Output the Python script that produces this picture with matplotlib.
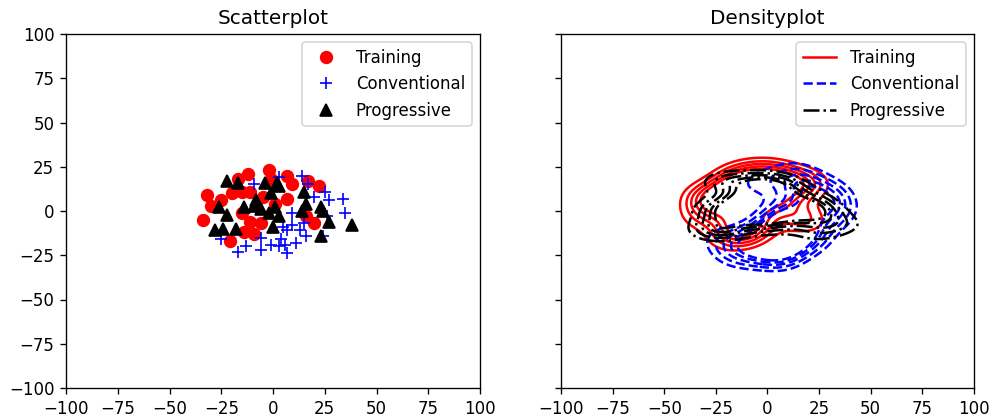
import numpy as np
import matplotlib
matplotlib.use("Agg")
import matplotlib.pyplot as plt
from matplotlib.lines import Line2D

# Sample coordinates for the three groups
training_x = [-32, -30, -34, -25, -20, -15, -11, -17, -12, -2, -1, 7, 9, 7, 1, -5,
              17, 22, 16, 20, -15, -11, -6, -14, -9, -21]
training_y = [9, 3, -5, 6, 10, 11, 11, 18, 21, 23, 18, 20, 15, 7, 4, 8,
              17, 14, -3, -7, -1, -6, -7, -12, -13, -17]

conventional_x = [3, 14, -9, 17, 20, 25, 27, 34, 35, 9, 9, 15, 24, 26, 7, 4, 11,
                  16, -6, -6, -1, 3, 6, 7, -13, -17, -25, 5, 13]
conventional_y = [19, 20, 15, 15, 8, 11, 6, 7, -1, -1, -8, -7, -14, -3, -11, -16, -18,
                  -14, -15, -22, -19, -20, -19, -24, -20, -23, -16, -9, -11]

progressive_x = [-22, -17, -4, 2, 3, -1, 15, 16, 14, 23, 24, 27, 23, 38, -26, -22,
                 -24, -18, -28, -14, -9, -6, -2, 1, 3, 0, -8]
progressive_y = [17, 16, 16, 16, 14, 10, 11, 4, 0, 2, 0, -6, -14, -8, 2, -2,
                 -10, -10, -11, 2, 3, 1, -1, 2, -3, -9, 6]

group_names = ["Training", "Conventional", "Progressive"]
tick_values = [-100, -75, -50, -25, 0, 25, 50, 75, 100]

groups = [
    (group_names[0], training_x, training_y),
    (group_names[1], conventional_x, conventional_y),
    (group_names[2], progressive_x, progressive_y),
]
markers = ["ro", "b+", "k^"]
line_colors = ["red", "blue", "black"]
line_styles = ["-", "--", "-."]


def kde_grid(x, y, gx, gy, bw_adjust=1.0):
    """Product-kernel Gaussian density estimate (per-axis Scott bandwidth)."""
    x = np.asarray(x, float)
    y = np.asarray(y, float)
    n = len(x)
    factor = n ** (-1.0 / 6.0) * bw_adjust
    hx = x.std(ddof=1) * factor
    hy = y.std(ddof=1) * factor
    X, Y = np.meshgrid(gx, gy)
    kx = np.exp(-0.5 * ((X[..., None] - x) / hx) ** 2)
    ky = np.exp(-0.5 * ((Y[..., None] - y) / hy) ** 2)
    Z = (kx * ky).sum(axis=-1) / (2 * np.pi * hx * hy * n)
    return X, Y, Z


def mass_levels(Z, fracs):
    """Density thresholds that leave the given fraction of mass below them."""
    vals = np.sort(Z.ravel())
    cdf = np.cumsum(vals)
    cdf /= cdf[-1]
    return np.interp(fracs, cdf, vals)


W, H, DPI = 1003, 419, 120
fig = plt.figure(figsize=(W / DPI, H / DPI), dpi=DPI)
bottom = (H - 388) / H
height = 354 / H
ax1 = fig.add_axes([66 / W, bottom, 414 / W, height])
ax2 = fig.add_axes([561 / W, bottom, 413 / W, height])

# Scatterplot
for (name, gx_, gy_), m in zip(groups, markers):
    ax1.plot(gx_, gy_, m, label=name, markersize=7)
ax1.legend(loc="upper right", numpoints=1)
ax1.set_title("Scatterplot")

# Densityplot
grid = np.linspace(-90, 90, 241)
fracs = [0.14, 0.23, 0.32, 0.41, 0.5]
for (name, gx_, gy_), c, ls in zip(groups, line_colors, line_styles):
    X, Y, Z = kde_grid(gx_, gy_, grid, grid, bw_adjust=1.0)
    lv = mass_levels(Z, fracs)
    ax2.contour(X, Y, Z, levels=lv, colors=c, linestyles=ls, linewidths=1.5)
handles = [Line2D([], [], color=c, linestyle=ls, linewidth=1.5)
           for c, ls in zip(line_colors, line_styles)]
ax2.legend(handles, group_names, loc="upper right")
ax2.set_title("Densityplot")

for ax in (ax1, ax2):
    ax.set_xlim(-100, 100)
    ax.set_ylim(-100, 100)
    ax.set_xticks(tick_values)
    ax.set_yticks(tick_values)
ax2.tick_params(labelleft=False)

fig.savefig("out.png", dpi=DPI)
